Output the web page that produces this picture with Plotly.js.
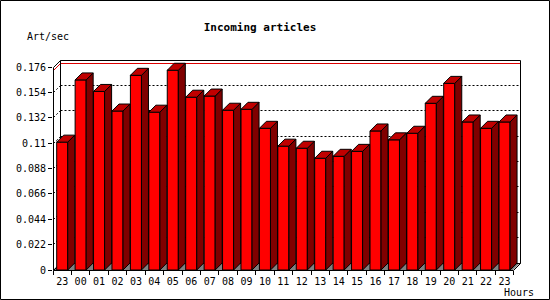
<!DOCTYPE html>
<html>
<head>
<meta charset="utf-8">
<script src="https://cdn.plot.ly/plotly-3.0.1.min.js"></script>
<style>
html,body{margin:0;padding:0;background:#fff;}
#chart{width:550px;height:300px;}
</style>
</head>
<body>
<div id="chart"></div>
<script>
// ---- data ----
const categories = ['23','00','01','02','03','04','05','06','07','08','09','10','11','12','13','14','15','16','17','18','19','20','21','22','23'];
const values = [0.111, 0.165, 0.155, 0.138, 0.169, 0.137, 0.1734, 0.150, 0.151, 0.1387, 0.1395, 0.123, 0.1075, 0.1057, 0.097, 0.0987, 0.103, 0.1207, 0.113, 0.1187, 0.1447, 0.162, 0.1285, 0.123, 0.1285];
const yTickVals = [0, 0.022, 0.044, 0.066, 0.088, 0.11, 0.132, 0.154, 0.176];
const yTickText = ['0', '0.022', '0.044', '0.066', '0.088', '0.11', '0.132', '0.154', '0.176'];

// ---- geometry ----
const W = 550, H = 300;
const M = {l: 53, r: 30, t: 60, b: 30};
const plotW = W - M.l - M.r, plotH = H - M.t - M.b;
const xRange = [-0.5, 24.84];
const yRange = [0, 0.1823];
const pxPerX = plotW / (xRange[1] - xRange[0]);
const pxPerY = plotH / (yRange[1] - yRange[0]);
const depthPx = 7;
const dx = depthPx / pxPerX, dy = depthPx / pxPerY;
const barW = 0.6;
const yTop = yTickVals[yTickVals.length - 1];
const x0 = xRange[0], xR = xRange[1];

const fx = x => (x - xRange[0]) / (xRange[1] - xRange[0]);
const fy = y => (y - yRange[0]) / (yRange[1] - yRange[0]);
const pxToPaperX = p => (p - M.l) / plotW;
const pxToPaperY = p => (H - M.b - p) / plotH;
// snap a data coordinate to the centre of a pixel, return paper coordinate
const sx = x => pxToPaperX(Math.floor(M.l + (x - xRange[0]) * pxPerX) + 0.5);
const sy = y => pxToPaperY(Math.floor(H - M.b - (y - yRange[0]) * pxPerY) + 0.5);

const xIdx = categories.map((c, i) => i);

// side and top faces
const sideX = [], sideY = [], topX = [], topY = [];
values.forEach((v, i) => {
  const xl = i - barW / 2, xr = i + barW / 2;
  sideX.push(xr, xr, xr + dx, xr + dx, xr, null);
  sideY.push(0, v, v + dy, dy, 0, null);
  topX.push(xl, xr, xr + dx, xl + dx, xl, null);
  topY.push(v, v, v + dy, v + dy, v, null);
});

const traces = [
  {type: 'bar', x: xIdx, y: values, width: barW,
   marker: {color: '#ff0000', line: {color: '#000', width: 1}}, hoverinfo: 'skip'},
  {type: 'scatter', mode: 'lines', x: sideX, y: sideY, fill: 'toself', fillcolor: '#800000',
   line: {color: '#000', width: 1}, hoverinfo: 'skip', cliponaxis: false},
  {type: 'scatter', mode: 'lines', x: topX, y: topY, fill: 'toself', fillcolor: '#c00000',
   line: {color: '#000', width: 1}, hoverinfo: 'skip', cliponaxis: false}
];

function seg(xa, ya, xb, yb, color, dash, layer) {
  return {type: 'line', xref: 'paper', yref: 'paper',
    x0: sx(xa), y0: sy(ya), x1: sx(xb), y1: sy(yb),
    line: {color: color, width: 1, dash: dash || 'solid'}, layer: layer || 'below'};
}

const shapes = [];
// floor
shapes.push({type: 'path', xref: 'paper', yref: 'paper', layer: 'below',
  path: `M ${fx(x0)} ${fy(0)} L ${fx(x0 + dx)} ${fy(dy)} L ${fx(xR)} ${fy(dy)} L ${fx(xR - dx)} ${fy(0)} Z`,
  fillcolor: '#808080', line: {width: 0}});
// back grid lines (dotted)
yTickVals.slice(1, -1).forEach(t => {
  shapes.push(seg(x0, t, x0 + dx, t + dy, '#000', '2px,2px'));
  shapes.push(seg(x0 + dx, t + dy, xR, t + dy, '#000', '2px,2px'));
});
// max line (red)
const vMax = Math.max(...values);
shapes.push(seg(x0, vMax, x0 + dx, vMax + dy, '#dd0000'));
shapes.push(seg(x0 + dx, vMax + dy, xR, vMax + dy, '#dd0000'));
// back wall frame
shapes.push(seg(x0 + dx, yTop + dy, xR, yTop + dy, '#000'));
shapes.push(seg(x0 + dx, dy, x0 + dx, yTop + dy, '#000'));
shapes.push(seg(xR, dy, xR, yTop + dy, '#000'));
shapes.push(seg(x0 + dx, dy, xR, dy, '#000'));
shapes.push(seg(x0, yTop, x0 + dx, yTop + dy, '#000'));
shapes.push(seg(x0, 0, x0 + dx, dy, '#000'));
// front axes
shapes.push(seg(xR, dy, xR - dx, 0, '#000', 'solid', 'above'));
shapes.push(seg(x0, 0, x0, yTop, '#000', 'solid', 'above'));
shapes.push(seg(x0, 0, xR - dx, 0, '#000', 'solid', 'above'));
// outer frame
shapes.push({type: 'rect', xref: 'paper', yref: 'paper', layer: 'above',
  x0: pxToPaperX(0.5), x1: pxToPaperX(549.5), y0: pxToPaperY(0.5), y1: pxToPaperY(299.5),
  line: {color: '#000', width: 1}, fillcolor: 'rgba(0,0,0,0)'});

const font = {family: 'DejaVu Sans Mono, monospace', size: 10, color: '#000'};

const layout = {
  width: W, height: H,
  margin: M,
  paper_bgcolor: '#fff', plot_bgcolor: 'rgba(0,0,0,0)',
  showlegend: false,
  font: font,
  title: {text: '<b>Incoming articles</b>', xref: 'container', yref: 'container',
    x: 260 / W, y: 1 - 27 / H, xanchor: 'center', yanchor: 'middle',
    font: {family: 'DejaVu Sans Mono, monospace', size: 11, color: '#000'}},
  xaxis: {range: xRange, showgrid: false, zeroline: false, showline: false,
    tickmode: 'array', tickvals: xIdx, ticktext: categories,
    ticks: 'outside', ticklen: 2, tickcolor: 'rgba(0,0,0,0)',
    minor: {tickmode: 'array', tickvals: [-0.5].concat(xIdx.map(i => i + 0.5)),
      ticks: 'outside', ticklen: 4, tickcolor: '#000', tickwidth: 1, showgrid: false},
    tickfont: font, fixedrange: true},
  yaxis: {range: yRange, showgrid: false, zeroline: false, showline: false,
    tickmode: 'array', tickvals: yTickVals, ticktext: yTickText,
    ticks: 'outside', ticklen: 4, tickcolor: '#000', tickwidth: 1,
    tickfont: font, fixedrange: true},
  shapes: shapes,
  annotations: [
    {text: 'Art/sec', xref: 'paper', yref: 'paper', x: pxToPaperX(48), y: pxToPaperY(37),
     xanchor: 'center', yanchor: 'middle', showarrow: false, font: font},
    {text: 'Hours', xref: 'paper', yref: 'paper', x: pxToPaperX(519), y: pxToPaperY(292),
     xanchor: 'center', yanchor: 'middle', showarrow: false, font: font}
  ]
};

Plotly.newPlot('chart', traces, layout, {displayModeBar: false, staticPlot: true});
</script>
</body>
</html>
